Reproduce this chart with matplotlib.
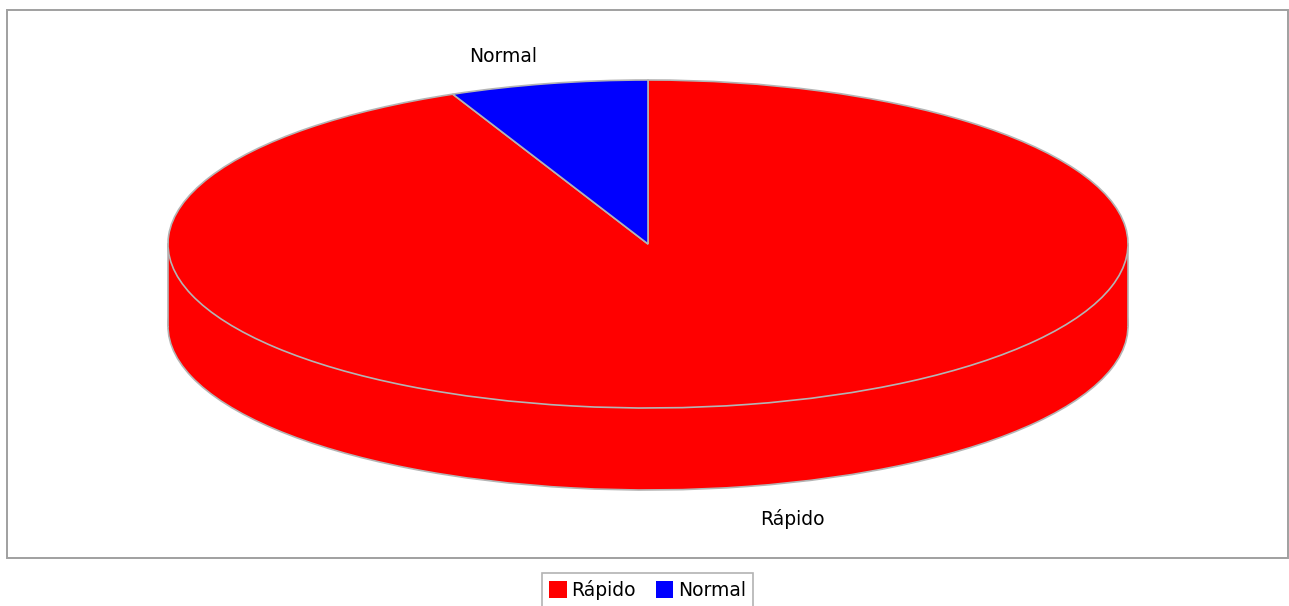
import matplotlib
matplotlib.use("Agg")
import matplotlib.pyplot as plt
from matplotlib.patches import Rectangle
import numpy as np

# Shipping method share
categories = ["Rápido", "Normal"]
values = [14, 1]
colors = ["#ff0000", "#0000ff"]

W, H = 1289, 606
fig = plt.figure(figsize=(W / 100, H / 100), dpi=100)
fig.patch.set_facecolor("white")

# Plot-area border
fig.add_artist(Rectangle((7 / W, 1 - 558 / H), (1288 - 7) / W, (558 - 10) / H,
                         transform=fig.transFigure, fill=False,
                         edgecolor="#a0a0a0", linewidth=1.4))

# Axes spanning the whole figure; pie radius 1 maps to 480 x 164 px
cx, cy, rx, ry = 648, 244, 480, 164
depth = 82 / ry
ax = fig.add_axes([0, 0, 1, 1])
ax.set_axis_off()

edge = "#b4b4b4"

# Side wall: lower copy of the pie plus the band joining it to the top
side, _ = ax.pie(values, colors=colors, startangle=90, counterclock=False,
                 center=(0, -depth), radius=1,
                 wedgeprops=dict(edgecolor=edge, linewidth=1.2))
ax.add_patch(Rectangle((-1, -depth), 2, depth, facecolor=colors[0],
                       edgecolor="none", zorder=1.5))
ax.plot([-1, -1], [-depth, 0], color=edge, lw=1.2, zorder=1.6)
ax.plot([1, 1], [-depth, 0], color=edge, lw=1.2, zorder=1.6)

# Top face
wedges, _ = ax.pie(values, colors=colors, startangle=90, counterclock=False,
                   radius=1, wedgeprops=dict(edgecolor=edge, linewidth=1.2,
                                             zorder=2))
for w in wedges:
    w.set_zorder(2)

# Slice labels placed outside each slice's mid-angle
for w, name in zip(wedges, categories):
    mid = np.deg2rad((w.theta1 + w.theta2) / 2)
    lx = 1.45 * np.cos(mid)
    ly = 1.17 * np.sin(mid)
    if ly < 0:
        ly -= depth + 0.03
    ax.text(lx, ly, name, ha="center", va="center", fontsize=13.5,
            family="DejaVu Sans", color="black", zorder=3)

ax.set_aspect("auto")
ax.set_xlim(-cx / rx, (W - cx) / rx)
ax.set_ylim(-(H - cy) / ry, cy / ry)

leg = fig.legend(wedges, categories, loc="center",
                 bbox_to_anchor=(647.5 / W, 1 - 590 / H),
                 bbox_transform=fig.transFigure, ncol=2, frameon=True,
                 fancybox=False, fontsize=13.5, handlelength=0.95,
                 handleheight=0.95, handletextpad=0.25, columnspacing=1.05,
                 borderpad=0.35, borderaxespad=0)
leg.get_frame().set_edgecolor("#a0a0a0")
leg.get_frame().set_linewidth(1.2)
for h in leg.legend_handles:
    h.set_edgecolor("none")

fig.savefig("out.png", dpi=100, facecolor="white")
